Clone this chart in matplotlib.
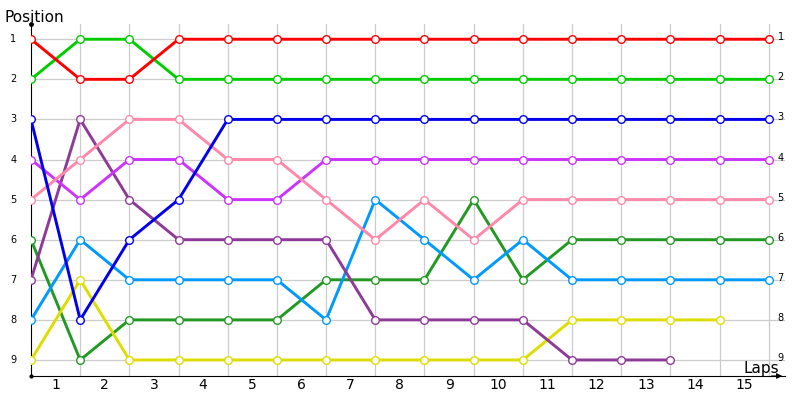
import matplotlib.pyplot as plt
import numpy as np

laps = np.arange(0, 16)

red = [1, 2, 2, 1, 1, 1, 1, 1, 1, 1, 1, 1, 1, 1, 1, 1]
green = [2, 1, 1, 2, 2, 2, 2, 2, 2, 2, 2, 2, 2, 2, 2, 2]
blue = [3, 8, 6, 5, 3, 3, 3, 3, 3, 3, 3, 3, 3, 3, 3, 3]
pink = [5, 4, 3, 3, 4, 4, 5, 6, 5, 6, 5, 5, 5, 5, 5, 5]
violet = [4, 5, 4, 4, 5, 5, 4, 4, 4, 4, 4, 4, 4, 4, 4, 4]
purple = [7, 3, 5, 6, 6, 6, 6, 8, 8, 8, 8, 9, 9, 9]
darkgreen = [6, 9, 8, 8, 8, 8, 7, 7, 7, 5, 7, 6, 6, 6, 6, 6]
lightblue = [8, 6, 7, 7, 7, 7, 8, 5, 6, 7, 6, 7, 7, 7, 7, 7]
yellow = [9, 7, 9, 9, 9, 9, 9, 9, 9, 9, 9, 8, 8, 8, 8]

series = [
    (darkgreen, '#229922'),
    (yellow, '#dddd00'),
    (lightblue, '#0099ff'),
    (purple, '#8e3a99'),
    (violet, '#cc33ff'),
    (pink, '#ff88aa'),
    (blue, '#0000ee'),
    (green, '#00cc00'),
    (red, '#ff0000'),
]

lap_labels = [str(i) for i in range(1, 16)]
positions = list(range(1, 10))

fig = plt.figure(figsize=(8, 4), dpi=100)
ax = fig.add_axes([31 / 800, 24 / 400, 754 / 800, 352 / 400])

for vals, col in series:
    ax.plot(laps[:len(vals)], vals, color=col, lw=2.1, marker='o', ms=5.5,
            mfc='white', mec=col, mew=1.0, zorder=3, solid_capstyle='round')

for x in range(1, 16):
    ax.axvline(x, color='#cccccc', lw=0.9, zorder=1)
for y in positions:
    ax.axhline(y, color='#cccccc', lw=0.9, zorder=1)

ax.set_xlim(0, 15.33)
ax.set_ylim(9.4, 0.62)

for s in ['top', 'right']:
    ax.spines[s].set_visible(False)
ax.spines['left'].set_color('black')
ax.spines['bottom'].set_color('black')
ax.set_xticks([])
ax.set_yticks([])

for i, lab in enumerate(lap_labels):
    ax.text(i + 0.5, 9.62, lab, ha='center', va='center', fontsize=10)
for p in positions:
    ax.text(-0.36, p, str(p), ha='center', va='center', fontsize=7)
    ax.text(15.24, p - 0.05, str(p), ha='center', va='center', fontsize=7)

ax.plot(0, 0.62, 'ko', ms=2.5, clip_on=False)
ax.plot(0, 9.4, 'ko', ms=2, clip_on=False)
ax.annotate('', xy=(15.33, 9.4), xytext=(15.0, 9.4),
            arrowprops=dict(arrowstyle='-|>', color='black', lw=0.8,
                            mutation_scale=8), annotation_clip=False)

fig.text(5 / 800, 1 - 17 / 400, 'Position', fontsize=11, va='center', ha='left')
fig.text(761 / 800, 1 - 369 / 400, 'Laps', fontsize=11, va='center', ha='center')

fig.savefig('out.png', dpi=100)
